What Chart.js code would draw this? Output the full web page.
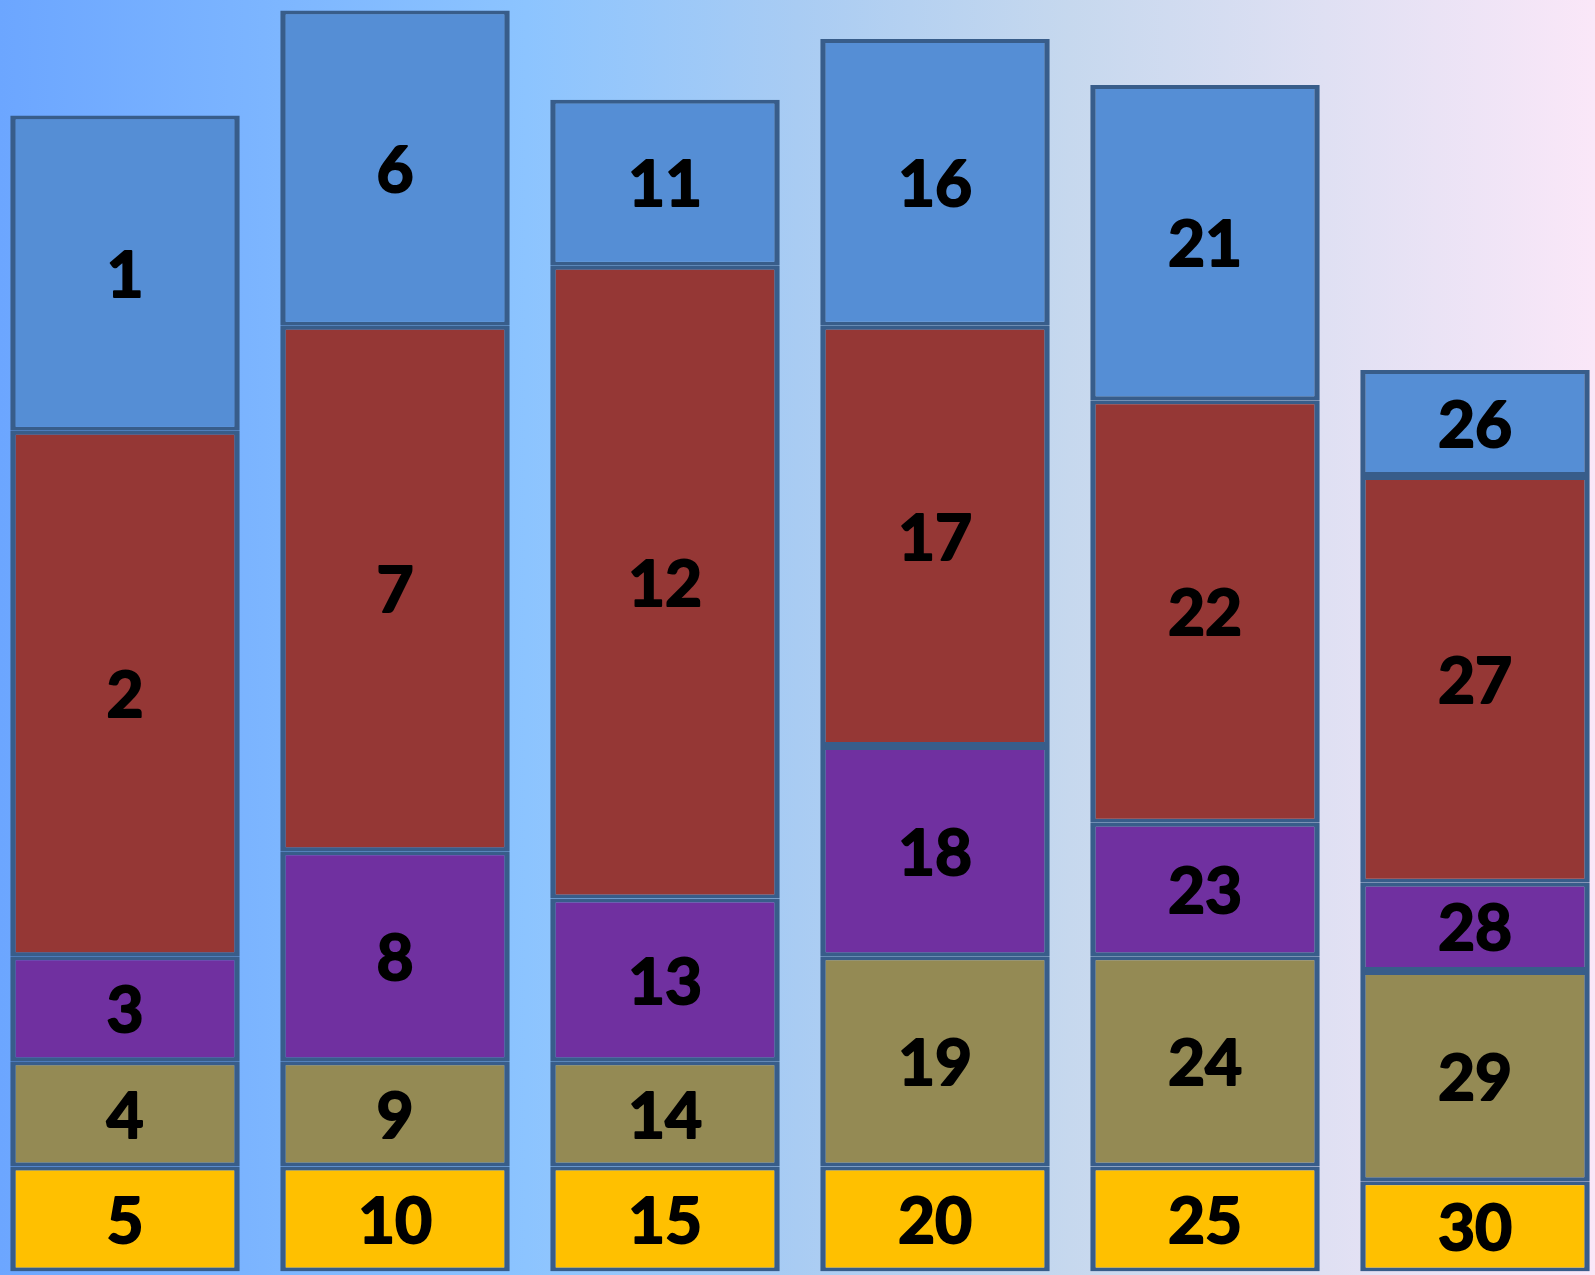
<!DOCTYPE html>
<html>
<head>
<meta charset="utf-8">
<script src="https://cdn.jsdelivr.net/npm/chart.js@4.4.1/dist/chart.umd.min.js"></script>
<style>
  html, body { margin: 0; padding: 0; overflow: hidden; background: #ffffff; width: 1595px; height: 1275px; }
  #wrap { position: absolute; left: -10px; top: 0; width: 1620px; height: 1275px; }
</style>
</head>
<body>
<div id="wrap"><canvas id="chart"></canvas></div>
<script>
// columns, left to right
var categories = ['A', 'B', 'C', 'D', 'E', 'F'];

// segment values, bottom of the stack first
var yellowVals = [1, 1, 1, 1, 1, 0.86];
var oliveVals  = [1, 1, 1, 2, 2, 2.0];
var purpleVals = [1, 2, 1.55, 2, 1.27, 0.84];
var redVals    = [5, 5, 6.02, 4, 4.02, 3.87];
var blueVals   = [3, 3, 1.58, 2.73, 3.0, 1.01];

// text written on each segment
var yellowTags = ['5', '10', '15', '20', '25', '30'];
var oliveTags  = ['4', '9', '14', '19', '24', '29'];
var purpleTags = ['3', '8', '13', '18', '23', '28'];
var redTags    = ['2', '7', '12', '17', '22', '27'];
var blueTags   = ['1', '6', '11', '16', '21', '26'];

var outline = '#385D8A';

function makeSet(values, tags, color) {
  return {
    data: values,
    tags: tags,
    backgroundColor: color,
    borderColor: outline,
    borderWidth: { left: 5.5, right: 5.5, top: 4, bottom: 4 },
    borderSkipped: false,
    barPercentage: 0.85,
    categoryPercentage: 1.0
  };
}

var backdrop = {
  id: 'backdrop',
  beforeDraw: function(chart) {
    var ctx = chart.ctx;
    var g = ctx.createLinearGradient(10, 0, chart.width - 15, 0);
    g.addColorStop(0, '#6CA6FF');
    g.addColorStop(0.33, '#8CC4FF');
    g.addColorStop(0.5, '#A9CCF3');
    g.addColorStop(0.67, '#C6D8EE');
    g.addColorStop(0.83, '#DFE0F3');
    g.addColorStop(1, '#FAE7F8');
    ctx.save();
    ctx.fillStyle = g;
    ctx.fillRect(0, 0, chart.width, chart.height);
    ctx.restore();
  }
};

var segmentText = {
  id: 'segmentText',
  afterDatasetsDraw: function(chart) {
    var ctx = chart.ctx;
    ctx.save();
    ctx.fillStyle = '#000000';
    ctx.strokeStyle = '#000000';
    ctx.lineWidth = 2;
    ctx.lineJoin = 'round';
    ctx.font = 'bold 64px Lato';
    ctx.textAlign = 'center';
    ctx.textBaseline = 'middle';
    chart.data.datasets.forEach(function(ds, i) {
      chart.getDatasetMeta(i).data.forEach(function(bar, j) {
        var y = (bar.y + bar.base) / 2 + 3;
        ctx.fillText(ds.tags[j], bar.x, y);
        ctx.strokeText(ds.tags[j], bar.x, y);
      });
    });
    ctx.restore();
  }
};

new Chart(document.getElementById('chart'), {
  type: 'bar',
  data: {
    labels: categories,
    datasets: [
      makeSet(yellowVals, yellowTags, '#FFC000'),
      makeSet(oliveVals, oliveTags, '#948A54'),
      makeSet(purpleVals, purpleTags, '#7030A0'),
      makeSet(redVals, redTags, '#953735'),
      makeSet(blueVals, blueTags, '#558ED5')
    ]
  },
  options: {
    responsive: true,
    maintainAspectRatio: false,
    animation: false,
    layout: { padding: { left: 0, right: 0, top: 0, bottom: 3.5 } },
    plugins: {
      legend: { display: false },
      tooltip: { enabled: false }
    },
    scales: {
      x: { stacked: true, display: false, offset: true },
      y: { stacked: true, display: false, min: 0, max: 12.1 }
    }
  },
  plugins: [backdrop, segmentText]
});
</script>
</body>
</html>
